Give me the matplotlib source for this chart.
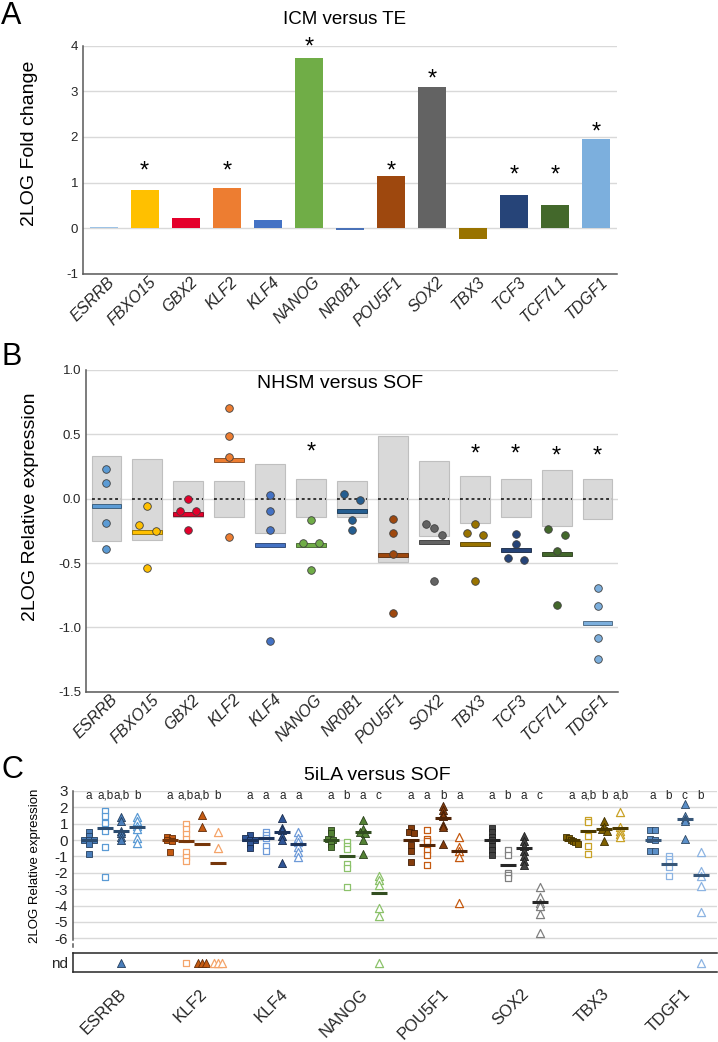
import numpy as np
import matplotlib
matplotlib.use('Agg')
import matplotlib.pyplot as plt
import matplotlib.transforms as mtransforms
from matplotlib.colors import to_rgb

plt.rcParams['font.family'] = ['Liberation Sans', 'DejaVu Sans']
plt.rcParams['axes.unicode_minus'] = False

# ---------------- data ----------------
# panel A: ICM versus TE
a_genes = ['ESRRB', 'FBXO15', 'GBX2', 'KLF2', 'KLF4', 'NANOG', 'NR0B1',
           'POU5F1', 'SOX2', 'TBX3', 'TCF3', 'TCF7L1', 'TDGF1']
a_fold = [0.03, 0.83, 0.22, 0.89, 0.19, 3.72, -0.03, 1.15, 3.10, -0.24, 0.72, 0.51, 1.96]
a_star = [None, 1.38, None, 1.38, None, 4.10, None, 1.38, 3.40, None, 1.30, 1.30, 2.24]
a_colors = ['#9DC3E6', '#FFC000', '#E4002B', '#ED7D31', '#4472C4', '#70AD47', '#4A72B8',
            '#9E480E', '#636363', '#997300', '#264478', '#43682B', '#7CAFDD']

# panel B: NHSM versus SOF
b_box_hi = [0.33, 0.31, 0.14, 0.14, 0.27, 0.155, 0.14, 0.49, 0.29, 0.18, 0.15, 0.22, 0.15]
b_box_lo = [-0.33, -0.32, -0.14, -0.14, -0.27, -0.145, -0.14, -0.49, -0.29, -0.19, -0.145, -0.215, -0.16]
b_mean = [-0.06, -0.26, -0.117, 0.298, -0.36, -0.357, -0.098, -0.435, -0.339, -0.35, -0.40, -0.433, -0.969]
b_points = [
    [0.23, 0.124, -0.187, -0.389],
    [-0.06, -0.205, -0.254, -0.536],
    [0.0, -0.098, -0.098, -0.246],
    [0.707, 0.484, 0.324, -0.30],
    [0.026, -0.098, -0.244, -1.106],
    [-0.166, -0.342, -0.342, -0.554],
    [0.036, -0.008, -0.163, -0.246],
    [-0.155, -0.264, -0.427, -0.891],
    [-0.197, -0.231, -0.28, -0.64],
    [-0.197, -0.264, -0.282, -0.64],
    [-0.272, -0.352, -0.459, -0.477],
    [-0.233, -0.282, -0.407, -0.824],
    [-0.697, -0.834, -1.085, -1.249],
]
b_star = [None, None, None, None, None, 0.41, None, None, None, 0.39, 0.39, 0.38, 0.38]
b_colors = ['#5B9BD5', '#FFC000', '#E4002B', '#ED7D31', '#4472C4', '#70AD47', '#255E91',
            '#9E480E', '#636363', '#997300', '#264478', '#43682B', '#7CAFDD']

# panel C: 5iLA versus SOF (filled squares, open squares, filled triangles, open triangles)
c_genes = ['ESRRB', 'KLF2', 'KLF4', 'NANOG', 'POU5F1', 'SOX2', 'TBX3', 'TDGF1']
c_sq_fill = [
    [0.52, 0.25, 0.02, 0.0, -0.02, -0.25, -0.85],
    [0.2, 0.12, 0.0, -0.04, -0.75],
    [0.3, 0.1, 0.02, -0.02, -0.24, -0.51],
    [0.61, 0.41, 0.06, 0.0, -0.24, -0.45],
    [0.72, 0.52, 0.42, -0.3, -0.65, -1.32],
    [0.71, 0.47, 0.2, 0.0, -0.35, -0.61, -0.9],
    [0.18, 0.1, 0.0, -0.05, -0.12, -0.22],
    [0.61, 0.61, 0.06, 0.0, -0.69, -0.69],
]
c_sq_open = [
    [1.75, 1.5, 1.04, 0.53, -0.45, -2.24],
    [0.98, 0.67, 0.37, 0.06, -0.75, -1.06, -1.26],
    [0.51, 0.33, 0.12, -0.35, -0.65],
    [-0.14, -0.35, -0.55, -1.47, -1.73, -2.85],
    [0.61, 0.06, -0.08, -0.59, -0.9, -1.5],
    [-0.61, -0.9, -2.02, -2.14, -2.34],
    [1.22, 1.08, 0.26, -0.35, -0.86],
    [-0.96, -1.16, -1.32, -1.63, -2.18],
]
c_tri_fill = [
    [1.4, 1.18, 0.57, 0.45, 0.22, 0.0],
    [1.53, 0.81],
    [1.38, 0.73, 0.61, 0.26, 0.0, -1.41],
    [1.22, 0.67, 0.51, 0.41, 0.0, -0.86],
    [2.1, 1.83, 1.59, 1.45, 0.94, 0.81, -0.24],
    [0.26, -0.04, -0.35, -0.65, -0.96, -1.26, -1.53],
    [1.14, 0.81, 0.67, 0.57, -0.04],
    [2.2, 1.49, 1.28, 1.14, 0.06],
]
c_tri_open = [
    [1.42, 1.18, 0.85, 0.65, 0.12, -0.2],
    [0.51, -0.49],
    [0.47, 0.16, -0.14, -0.45, -0.75, -1.02],
    [-2.2, -2.45, -2.75, -4.15, -4.65],
    [0.2, -0.41, -0.65, -1.02, -3.82],
    [-2.85, -3.5, -3.85, -4.0, -4.5, -5.7],
    [1.69, 0.81, 0.57, 0.37, 0.2],
    [-0.75, -1.87, -2.18, -2.79, -4.37],
]
c_means = [
    [0.0, 0.73, 0.57, 0.79],
    [0.0, -0.04, -0.24, -1.41],
    [0.0, 0.16, 0.51, -0.24],
    [0.0, -1.0, 0.51, -3.25],
    [0.0, -0.3, 1.38, -0.65],
    [0.0, -1.53, -0.49, -3.76],
    [0.0, 0.53, 0.67, 0.77],
    [0.0, -1.43, 1.28, -2.15],
]
c_nd = [
    [0, 0, 1, 0],
    [0, 1, 3, 3],
    [0, 0, 0, 0],
    [0, 0, 0, 1],
    [0, 0, 0, 0],
    [0, 0, 0, 0],
    [0, 0, 0, 0],
    [0, 0, 0, 1],
]
c_letters = [
    ['a', 'a,b', 'a,b', 'b'],
    ['a', 'a,b', 'a,b', 'b'],
    ['a', 'a', 'a', 'a'],
    ['a', 'b', 'a', 'c'],
    ['a', 'a', 'b', 'a'],
    ['a', 'b', 'a', 'c'],
    ['a', 'a,b', 'b', 'a,b'],
    ['a', 'b', 'c', 'b'],
]
c_fill = ['#4A7EBB', '#C55A11', '#2F5597', '#548235', '#843C0C', '#404040', '#7F6000', '#5B8FC8']
c_open = ['#5B9BD5', '#F4A46A', '#6F9BD8', '#8CC26B', '#C55A11', '#808080', '#C9A227', '#8DB4E2']


def shade(c, f=0.55):
    r, g, b = to_rgb(c)
    return (r * f, g * f, b * f)


def swarm(vals, gap, step, maxhalf):
    # spread points sideways when they sit too close vertically
    vals = np.asarray(vals, float)
    offs = np.zeros(len(vals))
    groups = []
    for i in np.argsort(-vals, kind='stable'):
        if groups and vals[groups[-1][-1]] - vals[i] < gap:
            groups[-1].append(i)
        else:
            groups.append([i])
    for g in groups:
        n = len(g)
        if n > 1:
            half = min(maxhalf, step * (n - 1) / 2)
            offs[g] = np.linspace(-half, half, n)
    return offs


GRID = '#D9D9D9'
SPINE = '#595959'

fig = plt.figure(figsize=(7.18, 10.42), dpi=100)
W, H = 718, 1042


def box(l, t, r, b):
    return [l / W, 1 - b / H, (r - l) / W, (b - t) / H]


def style_axes(ax):
    for s in ['top', 'right']:
        ax.spines[s].set_visible(False)
    for s in ['left', 'bottom']:
        ax.spines[s].set_color(SPINE)
        ax.spines[s].set_linewidth(1.1)
    ax.tick_params(length=0, labelsize=9.5, colors='#262626')
    ax.set_axisbelow(True)


def rot_labels(ax, labels, size, italic, dx, pad):
    ax.set_xticks(range(len(labels)))
    ax.set_xticklabels(labels, rotation=45, ha='right', va='center', rotation_mode='anchor',
                       fontsize=size, style='italic' if italic else 'normal')
    ax.tick_params(axis='x', pad=pad)
    off = mtransforms.ScaledTranslation(dx / 100, 0, fig.dpi_scale_trans)
    for lab in ax.get_xticklabels():
        lab.set_transform(lab.get_transform() + off)


# ---------------- panel A ----------------
axA = fig.add_axes(box(83, 45.6, 617, 274))
style_axes(axA)
xa = np.arange(len(a_genes))
axA.bar(xa, a_fold, width=0.68, color=a_colors, zorder=2)
for x, s in zip(xa, a_star):
    if s is not None:
        axA.annotate('*', (x, s), xytext=(0, -9), textcoords='offset points',
                     ha='center', va='baseline', fontsize=17, annotation_clip=False)
axA.set_xlim(-0.5, len(a_genes) - 0.5)
axA.set_ylim(-1, 4)
axA.set_yticks(range(-1, 5))
axA.yaxis.grid(True, color=GRID, lw=1)
axA.set_ylabel('2LOG Fold change', fontsize=14)
axA.yaxis.set_label_coords(-0.085, 0.57)
rot_labels(axA, a_genes, 11.5, True, 9, 4)
fig.text(345 / W, 1 - 19 / H, 'ICM versus TE', ha='center', va='center', fontsize=13.5)

# ---------------- panel B ----------------
axB = fig.add_axes(box(86, 370, 618, 691.7))
style_axes(axB)
xb = np.arange(len(a_genes))
hi = np.array(b_box_hi)
lo = np.array(b_box_lo)
axB.bar(xb, hi - lo, bottom=lo, width=0.73, color='#D9D9D9', edgecolor='#BFBFBF', lw=0.8, zorder=1)
axB.hlines(np.zeros(len(xb)), xb - 0.365, xb + 0.365, colors='#262626',
           linestyles=(0, (1.6, 1.6)), lw=1.3, zorder=2)
axB.bar(xb, 0.03, bottom=np.array(b_mean) - 0.015, width=0.73, color=b_colors,
        edgecolor=[shade(c) for c in b_colors], lw=0.6, zorder=3)
for i, pts in enumerate(b_points):
    offs = swarm(pts, 0.06, 0.4, 0.2)
    axB.scatter(i + offs, pts, s=30, color=b_colors[i], edgecolor='#404040', lw=0.6, zorder=4)
for x, s in zip(xb, b_star):
    if s is not None:
        axB.annotate('*', (x, s), xytext=(0, -9), textcoords='offset points',
                     ha='center', va='baseline', fontsize=17)
axB.set_xlim(-0.5, len(a_genes) - 0.5)
axB.set_ylim(-1.5, 1.0)
axB.set_yticks(np.arange(-1.5, 1.01, 0.5))
axB.set_yticklabels(['%.1f' % v for v in np.arange(-1.5, 1.01, 0.5)])
axB.yaxis.grid(True, color=GRID, lw=1)
axB.set_ylabel('2LOG Relative expression', fontsize=14)
axB.yaxis.set_label_coords(-0.088, 0.574)
rot_labels(axB, a_genes, 11.5, True, 9, 4)
axB.text(0.477, 0.959, 'NHSM versus SOF', transform=axB.transAxes, ha='center', va='center', fontsize=14)

# ---------------- panel C ----------------
axC = fig.add_axes(box(73, 791, 717, 940))
axN = fig.add_axes(box(73, 953, 717, 972))
for s in ['top', 'right', 'bottom']:
    axC.spines[s].set_visible(False)
axC.spines['left'].set_color(SPINE)
axC.spines['left'].set_linewidth(1.1)
axC.tick_params(length=0, labelsize=11, colors='#262626')
axC.set_xticks([])
axC.set_ylim(-6.1, 3)
axC.set_yticks(range(-6, 4))
axC.yaxis.grid(True, color=GRID, lw=1)
axC.set_axisbelow(True)
axC.set_ylabel('2LOG Relative expression', fontsize=9.5)
axC.yaxis.set_label_coords(-0.05, 0.5)
axC.plot([0, 0], [-0.025, -0.05], transform=axC.transAxes, color=SPINE, lw=1.1, clip_on=False)

sub = [-0.3, -0.1, 0.1, 0.3]
groups = [c_sq_fill, c_sq_open, c_tri_fill, c_tri_open]
markers = ['s', 's', '^', '^']
for i in range(len(c_genes)):
    for j in range(4):
        vals = groups[j][i]
        xc = i + sub[j]
        offs = swarm(vals, 0.11, 0.06, 0.07)
        filled = j in (0, 2)
        ms = 24 if j < 2 else 34
        if filled:
            axC.scatter(xc + offs, vals, marker=markers[j], s=ms, color=c_fill[i],
                        edgecolor=shade(c_fill[i], 0.5), lw=0.6, zorder=3)
        else:
            axC.scatter(xc + offs, vals, marker=markers[j], s=ms, facecolor='white',
                        edgecolor=c_open[i], lw=0.9, zorder=3)
        axC.hlines(c_means[i][j], xc - 0.1, xc + 0.1, colors=[shade(c_fill[i], 0.6)], lw=2.2, zorder=4)
        axC.text(xc, 2.72, c_letters[i][j], ha='center', va='center', fontsize=8.5, color='#262626')
        n = c_nd[i][j]
        if n:
            nd_off = swarm([0.5] * n, 0.1, 0.05, 0.2)
            if filled:
                axN.scatter(xc + nd_off, [0.5] * n, marker=markers[j], s=ms, color=c_fill[i],
                            edgecolor=shade(c_fill[i], 0.5), lw=0.6, zorder=3)
            else:
                axN.scatter(xc + nd_off, [0.5] * n, marker=markers[j], s=ms, facecolor='white',
                            edgecolor=c_open[i], lw=0.9, zorder=3)
axC.set_xlim(-0.5, len(c_genes) - 0.5)
axC.text(0.472, 1.105, '5iLA versus SOF', transform=axC.transAxes, ha='center', va='center', fontsize=14)

axN.set_xlim(-0.5, len(c_genes) - 0.5)
axN.set_ylim(0, 1)
axN.spines['right'].set_visible(False)
for s in ['top', 'bottom', 'left']:
    axN.spines[s].set_color('#262626')
    axN.spines[s].set_linewidth(1.1)
axN.tick_params(length=0, labelsize=11, colors='#262626')
axN.set_yticks([0.5])
axN.set_yticklabels(['nd'])
rot_labels(axN, c_genes, 12, False, 11, 14)

# panel letters
fig.text(0.002, 1 - 16 / H, 'A', fontsize=22, va='center', ha='left')
fig.text(0.002, 1 - 357 / H, 'B', fontsize=22, va='center', ha='left')
fig.text(0.002, 1 - 770 / H, 'C', fontsize=22, va='center', ha='left')

fig.savefig('out.png', dpi=100)
